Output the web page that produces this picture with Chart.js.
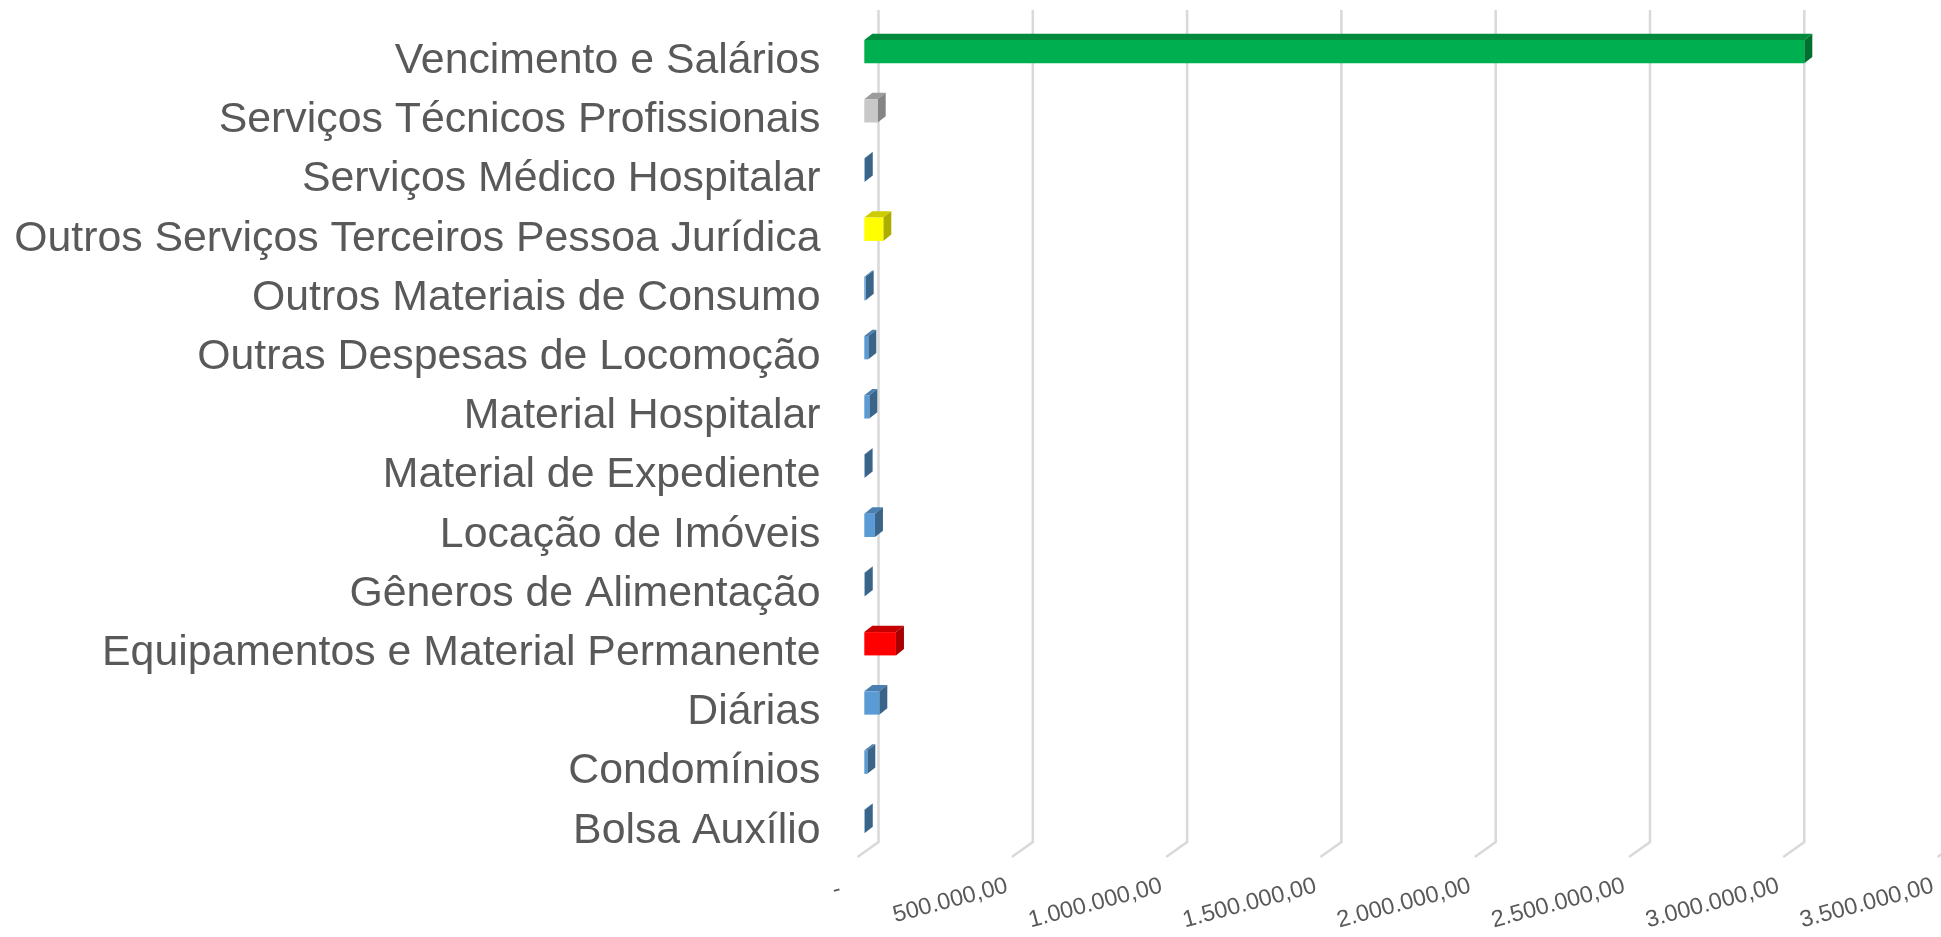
<!DOCTYPE html>
<html>
<head>
<meta charset="utf-8">
<title>Despesas</title>
<script src="https://cdn.jsdelivr.net/npm/chart.js@4"></script>
<style>
  html, body { margin: 0; padding: 0; background: #fff; overflow: hidden; width: 1941px; height: 937px; }
  canvas { display: block; }
</style>
</head>
<body>
<canvas id="despesasChart" width="2000" height="937"></canvas>
<script>
const categories = [
  "Vencimento e Salários",
  "Serviços Técnicos Profissionais",
  "Serviços Médico Hospitalar",
  "Outros Serviços Terceiros Pessoa Jurídica",
  "Outros Materiais de Consumo",
  "Outras Despesas de Locomoção",
  "Material Hospitalar",
  "Material de Expediente",
  "Locação de Imóveis",
  "Gêneros de Alimentação",
  "Equipamentos e Material Permanente",
  "Diárias",
  "Condomínios",
  "Bolsa Auxílio"
];
const values = [3046000, 43400, 1500, 61600, 4500, 13000, 16200, 1000, 34500, 1500, 102600, 48600, 9700, 1500];
const tickLabels = ["-  ", "500.000,00", "1.000.000,00", "1.500.000,00", "2.000.000,00", "2.500.000,00", "3.000.000,00", "3.500.000,00"];

// front, top and side colours of each box
const blue = ["#5b9bd5", "#4a80b0", "#3b6489"];
const faces = [
  ["#00b050", "#008a3e", "#00702f"],
  ["#c8c8c8", "#9c9c9c", "#858585"],
  blue,
  ["#ffff00", "#cccc00", "#adad00"],
  blue, blue, blue, blue, blue, blue,
  ["#ff0000", "#c40000", "#a80000"],
  blue, blue, blue
];

// fake 3D: scales sit on the back wall / front floor edge
const WALL_TOP = 10, WALL_BOTTOM = 842;
const FLOOR_DX = 21, FLOOR_DY = 15;
const BAR_SHIFT_X = -14.2, BAR_SHIFT_Y = -9.5;
const BAR_DX = 8, BAR_DY = 6.3;

const box3d = {
  id: "box3d",
  beforeDatasetsDraw(chart) {
    const ctx = chart.ctx, xs = chart.scales.x;
    ctx.save();
    ctx.strokeStyle = "#d9d9d9";
    ctx.lineWidth = 2.5;
    xs.ticks.forEach((t) => {
      const px = xs.getPixelForValue(t.value);
      ctx.beginPath();
      ctx.moveTo(px, WALL_TOP);
      ctx.lineTo(px, WALL_BOTTOM);
      ctx.lineTo(px - FLOOR_DX, WALL_BOTTOM + FLOOR_DY);
      ctx.stroke();
    });
    ctx.restore();

    ctx.save();
    ctx.translate(BAR_SHIFT_X, BAR_SHIFT_Y);
    chart.getDatasetMeta(0).data.forEach((bar, i) => {
      const top = bar.y - bar.height / 2, bottom = bar.y + bar.height / 2;
      ctx.fillStyle = faces[i][1];
      ctx.beginPath();
      ctx.moveTo(bar.base, top);
      ctx.lineTo(bar.base + BAR_DX, top - BAR_DY);
      ctx.lineTo(bar.x + BAR_DX, top - BAR_DY);
      ctx.lineTo(bar.x, top);
      ctx.closePath();
      ctx.fill();
      ctx.fillStyle = faces[i][2];
      ctx.beginPath();
      ctx.moveTo(bar.x, top);
      ctx.lineTo(bar.x + BAR_DX, top - BAR_DY);
      ctx.lineTo(bar.x + BAR_DX, bottom - BAR_DY);
      ctx.lineTo(bar.x, bottom);
      ctx.closePath();
      ctx.fill();
    });
  },
  afterDatasetsDraw(chart) {
    chart.ctx.restore();
  }
};

new Chart(document.getElementById("despesasChart").getContext("2d"), {
  type: "bar",
  data: {
    labels: categories,
    datasets: [{
      data: values,
      backgroundColor: faces.map((f) => f[0]),
      categoryPercentage: 1,
      barPercentage: 0.394,
      clip: false
    }]
  },
  plugins: [box3d],
  options: {
    indexAxis: "y",
    responsive: false,
    animation: false,
    layout: { padding: { top: 31.5, right: 41.4, left: 0, bottom: 0 } },
    plugins: {
      legend: { display: false },
      tooltip: { enabled: false }
    },
    scales: {
      x: {
        min: 0,
        max: 3500000,
        grid: { display: false },
        border: { display: false },
        afterFit(scale) {
          scale.height = 76.5;
          scale.paddingLeft = 0;
          scale.paddingRight = 0;
        },
        ticks: {
          stepSize: 500000,
          autoSkip: false,
          minRotation: 15,
          maxRotation: 15,
          labelOffset: -25.5,
          padding: 3.5,
          color: "#595959",
          font: { family: "Liberation Sans", size: 23.5 },
          callback(value, index) { return tickLabels[index]; }
        }
      },
      y: {
        grid: { display: false },
        border: { display: false },
        afterFit(scale) {
          scale.width = 878.5;
          scale.paddingTop = 0;
          scale.paddingBottom = 0;
        },
        ticks: {
          autoSkip: false,
          padding: 50,
          color: "#595959",
          font: { family: "Liberation Sans", size: 42.8 }
        }
      }
    }
  }
});
</script>
</body>
</html>
